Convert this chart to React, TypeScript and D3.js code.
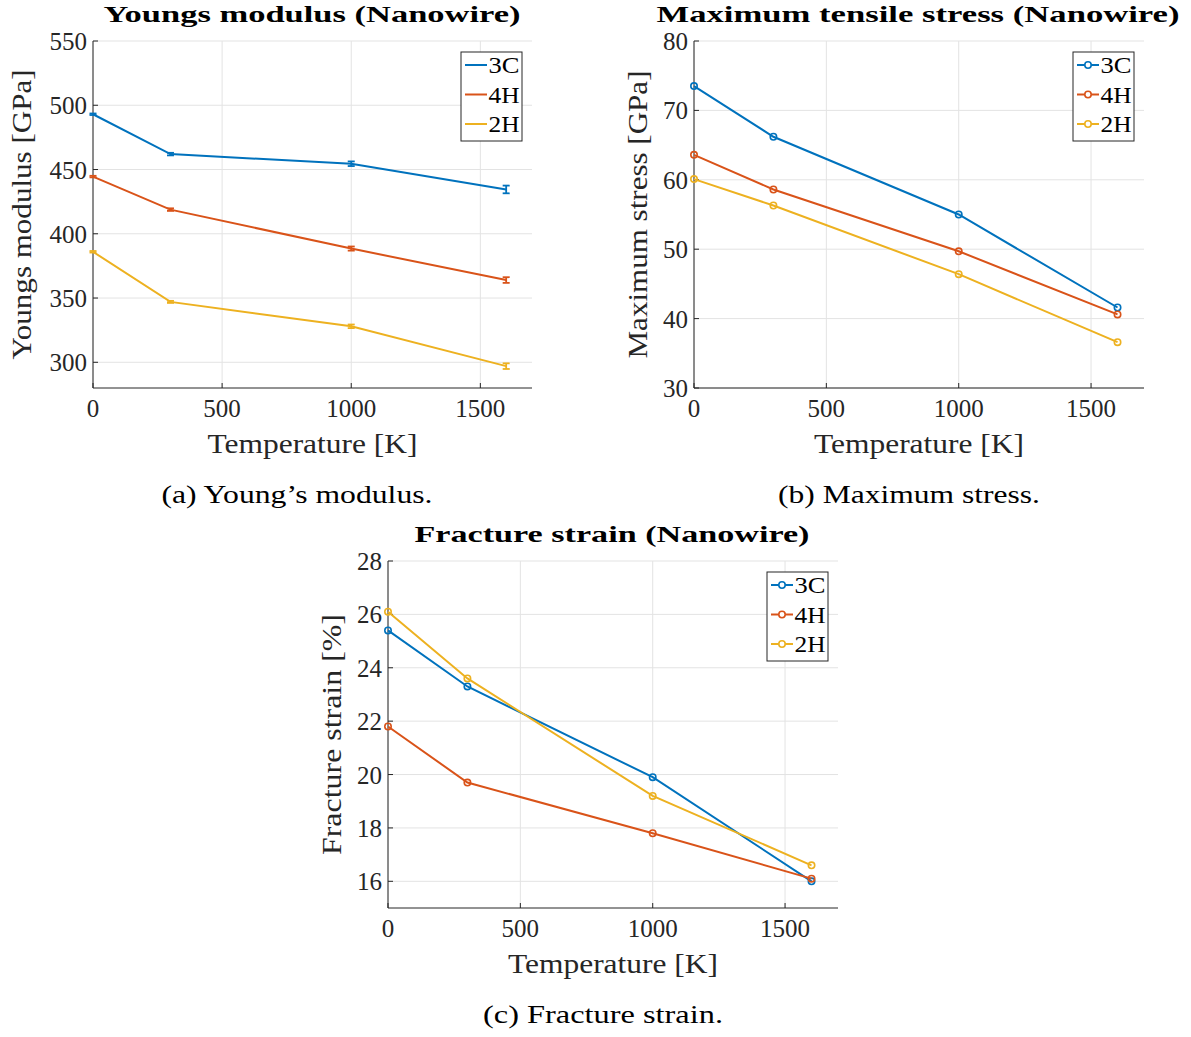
import React from "react";
import * as d3 from "d3";

const temperatures = [0, 300, 1000, 1600];
const seriesNames = ["3C", "4H", "2H"];
const colors = ["#0072BD", "#D95319", "#EDB120"];

const youngs3C = [493, 462, 454.5, 434.5];
const youngs4H = [444.5, 418.8, 388.5, 364];
const youngs2H = [386, 347, 328, 297];
const youngsErr3C = [0.6, 1, 1.8, 3];
const youngsErr4H = [0.6, 1, 1.6, 2.2];
const youngsErr2H = [0.6, 0.8, 1.4, 2.2];

const stress3C = [73.5, 66.2, 55.0, 41.6];
const stress4H = [63.6, 58.6, 49.7, 40.6];
const stress2H = [60.1, 56.3, 46.4, 36.6];

const strain3C = [25.4, 23.3, 19.9, 16.0];
const strain4H = [21.8, 19.7, 17.8, 16.1];
const strain2H = [26.1, 23.6, 19.2, 16.6];

const xTicks = [0, 500, 1000, 1500];
const youngsTicks = [300, 350, 400, 450, 500, 550];
const stressTicks = [30, 40, 50, 60, 70, 80];
const strainTicks = [16, 18, 20, 22, 24, 26, 28];

const FONT = "'Liberation Serif', 'DejaVu Serif', serif";
const AXIS = "#262626";

type PanelProps = {
  left: number; top: number; width: number; height: number;
  yDomain: [number, number]; yTicks: number[];
  series: number[][]; errors?: number[][]; markers: boolean;
  title: string; titleLen: number; titleX: number;
  yLabel: string; yLabelLen: number;
  caption: string; captionLen: number; captionX: number;
  legendX: number;
  yLabelX: number;
};

function Panel(p: PanelProps) {
  const x = d3.scaleLinear().domain([0, 1700]).range([p.left, p.left + p.width]);
  const y = d3.scaleLinear().domain(p.yDomain).range([p.top + p.height, p.top]);
  const bottom = p.top + p.height;
  const line = d3.line<number>().x((_, i) => x(temperatures[i])).y((d) => y(d));
  const cx = p.left + p.width / 2;
  const legY = p.top + 11;
  return (
    <g>
      {xTicks.map((t) => (
        <line key={"gx" + t} x1={x(t)} x2={x(t)} y1={p.top} y2={bottom} stroke="#e3e3e3" strokeWidth={1} />
      ))}
      {p.yTicks.map((t) => (
        <line key={"gy" + t} x1={p.left} x2={p.left + p.width} y1={y(t)} y2={y(t)} stroke="#e3e3e3" strokeWidth={1} />
      ))}
      <line x1={p.left} x2={p.left} y1={p.top} y2={bottom} stroke={AXIS} strokeWidth={1} />
      <line x1={p.left} x2={p.left + p.width} y1={bottom} y2={bottom} stroke={AXIS} strokeWidth={1} />
      {xTicks.map((t) => (
        <g key={"tx" + t}>
          <line x1={x(t)} x2={x(t)} y1={bottom} y2={bottom - 5} stroke={AXIS} />
          <text x={x(t)} y={bottom + 29} textAnchor="middle" fontSize={25} fill={AXIS} fontFamily={FONT}>{t}</text>
        </g>
      ))}
      {p.yTicks.map((t) => (
        <g key={"ty" + t}>
          <line x1={p.left} x2={p.left + 5} y1={y(t)} y2={y(t)} stroke={AXIS} />
          <text x={p.left - 6} y={y(t) + 9} textAnchor="end" fontSize={25} fill={AXIS} fontFamily={FONT}>{t}</text>
        </g>
      ))}
      {p.series.map((s, si) => (
        <g key={"s" + si}>
          <path d={line(s) || ""} fill="none" stroke={colors[si]} strokeWidth={2} />
          {p.errors && s.map((v, i) => {
            const e = p.errors![si][i];
            const xx = x(temperatures[i]);
            return (
              <g key={"e" + i} stroke={colors[si]} strokeWidth={1.8}>
                <line x1={xx} x2={xx} y1={y(v - e)} y2={y(v + e)} />
                <line x1={xx - 3.5} x2={xx + 3.5} y1={y(v - e)} y2={y(v - e)} />
                <line x1={xx - 3.5} x2={xx + 3.5} y1={y(v + e)} y2={y(v + e)} />
              </g>
            );
          })}
          {p.markers && s.map((v, i) => (
            <circle key={"m" + i} cx={x(temperatures[i])} cy={y(v)} r={3.2} fill="none" stroke={colors[si]} strokeWidth={1.6} />
          ))}
        </g>
      ))}
      <rect x={p.legendX} y={legY} width={61} height={89} fill="white" stroke="#262626" strokeWidth={1} />
      {seriesNames.map((n, i) => {
        const ly = legY + 13 + i * 29.5;
        return (
          <g key={"l" + n}>
            <line x1={p.legendX + 4} x2={p.legendX + 26} y1={ly} y2={ly} stroke={colors[i]} strokeWidth={2} />
            {p.markers && <circle cx={p.legendX + 15} cy={ly} r={3.2} fill="white" stroke={colors[i]} strokeWidth={1.6} />}
            <text x={p.legendX + 27.5} y={ly + 8} fontSize={24} fill="#000" fontFamily={FONT} textLength={31} lengthAdjust="spacingAndGlyphs">{n}</text>
          </g>
        );
      })}
      <text x={p.titleX} y={p.top - 19} textAnchor="middle" fontSize={24} fontWeight="bold" fill="#000" fontFamily={FONT} textLength={p.titleLen} lengthAdjust="spacingAndGlyphs">{p.title}</text>
      <text x={cx} y={bottom + 65} textAnchor="middle" fontSize={27} fill={AXIS} fontFamily={FONT} textLength={210} lengthAdjust="spacingAndGlyphs">Temperature [K]</text>
      <text transform={`translate(${p.yLabelX},${(p.top + bottom) / 2}) rotate(-90)`} textAnchor="middle" fontSize={27} fill={AXIS} fontFamily={FONT} textLength={p.yLabelLen} lengthAdjust="spacingAndGlyphs">{p.yLabel}</text>
      <text x={p.captionX} y={bottom + 115} textAnchor="middle" fontSize={25} fill="#000" fontFamily={FONT} textLength={p.captionLen} lengthAdjust="spacingAndGlyphs">{p.caption}</text>
    </g>
  );
}

export default function App() {
  return (
    <svg width={1191} height={1037} style={{ position: "absolute", left: 0, top: 0, background: "white" }}>
      <rect width={1191} height={1037} fill="white" />
      <Panel left={93} top={41} width={439} height={347} yDomain={[280, 550]} yTicks={youngsTicks}
        series={[youngs3C, youngs4H, youngs2H]} errors={[youngsErr3C, youngsErr4H, youngsErr2H]} markers={false}
        title="Youngs modulus (Nanowire)" titleLen={417} titleX={312}
        yLabel="Youngs modulus [GPa]" yLabelLen={290}
        caption="(a) Young’s modulus." captionLen={271} captionX={297} legendX={461} yLabelX={31} />
      <Panel left={694} top={41} width={450} height={347} yDomain={[30, 80]} yTicks={stressTicks}
        series={[stress3C, stress4H, stress2H]} markers={true}
        title="Maximum tensile stress (Nanowire)" titleLen={523} titleX={918}
        yLabel="Maximum stress [GPa]" yLabelLen={288}
        caption="(b) Maximum stress." captionLen={262} captionX={909} legendX={1073} yLabelX={647} />
      <Panel left={388} top={561} width={450} height={347} yDomain={[15, 28]} yTicks={strainTicks}
        series={[strain3C, strain4H, strain2H]} markers={true}
        title="Fracture strain (Nanowire)" titleLen={395} titleX={612}
        yLabel="Fracture strain [%]" yLabelLen={241}
        caption="(c) Fracture strain." captionLen={240} captionX={603} legendX={767} yLabelX={341} />
    </svg>
  );
}
